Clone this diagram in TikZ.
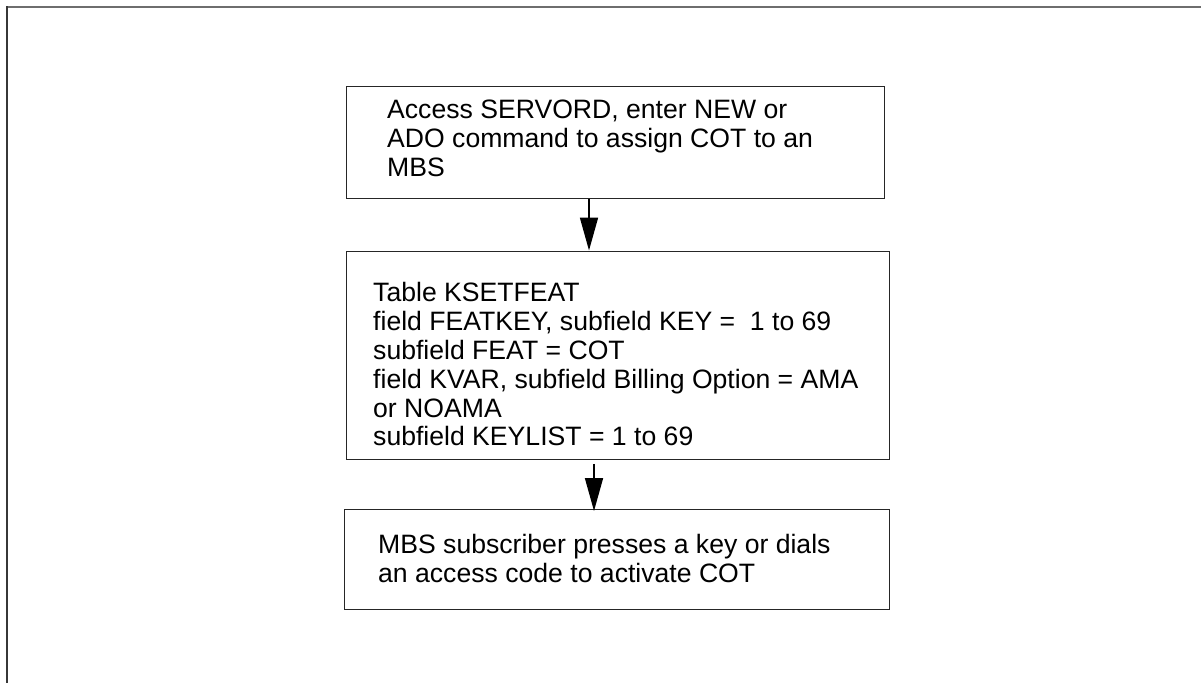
\documentclass[tikz,border=0pt]{standalone}
\usepackage{fontspec}
\setmainfont{Liberation Sans}
\usetikzlibrary{arrows.meta}

\begin{document}
\begin{tikzpicture}[x=1pt, y=-1pt,
  stepbox/.style={draw=black!85, line width=1.3pt, inner sep=0pt, anchor=north west},
  boxtext/.style={anchor=north west, inner sep=0pt, align=left,
    font=\fontsize{26.6}{28.9}\selectfont},
  flow/.style={line width=1.7pt, -{Triangle[length=33pt, width=18pt]}}]

  \useasboundingbox (0,0) rectangle (1201,683);

  % page frame: top and left rules only
  \draw[line width=2pt, draw={rgb,255:red,110;green,110;blue,110}] (6,7) -- (1201,7);
  \draw[line width=2pt, draw={rgb,255:red,55;green,55;blue,55}] (6.5,6) -- (6.5,683);

  % boxes
  \node[stepbox, minimum width=538pt, minimum height=112pt] (b1) at (346,86) {};
  \node[stepbox, minimum width=543pt, minimum height=208pt] (b2) at (346,250.5) {};
  \node[stepbox, minimum width=545pt, minimum height=100pt] (b3) at (344,509) {};

  % box texts
  \node[boxtext] (t1) at (387,100) {Access SERVORD, enter NEW or\\ADO command to assign COT to an\\MBS};
  \node[boxtext] (t2) at (373,282) {Table KSETFEAT\\field FEATKEY, subfield KEY =~~1 to 69\\subfield FEAT = COT\\field KVAR, subfield Billing Option = AMA\\or NOAMA\\subfield KEYLIST = 1 to 69};
  \node[boxtext] (t3) at (378,534) {MBS subscriber presses a key or dials\\an access code to activate COT};

  % arrow columns
  \coordinate (c1) at (589,0);
  \coordinate (c2) at (594,0);

  % connectors
  \draw[flow] (b1.south -| c1) -- (b2.north -| c1);
  \draw[flow] ([yshift=-4pt]b2.south -| c2) -- ([yshift=-2pt]b3.north -| c2);
\end{tikzpicture}
\end{document}
